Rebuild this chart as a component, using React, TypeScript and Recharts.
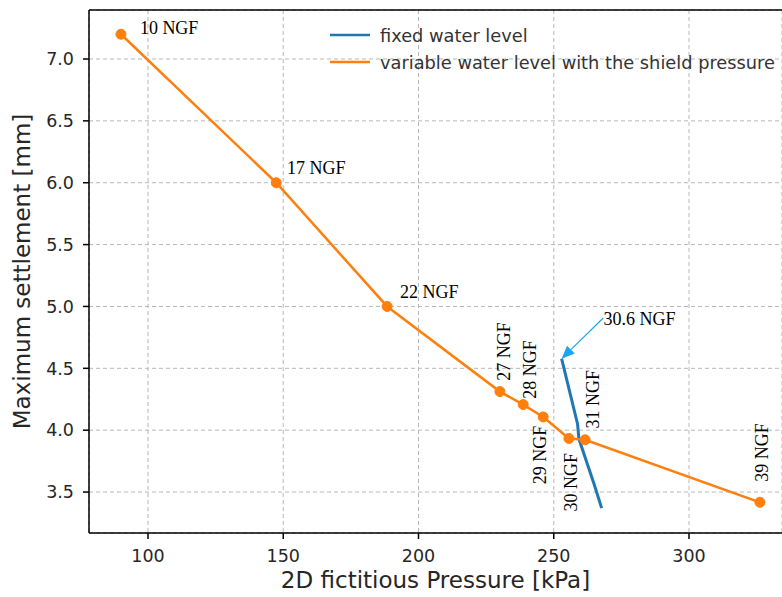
import {
  CartesianGrid,
  Legend,
  Line,
  LineChart,
  ReferenceDot,
  ReferenceLine,
  XAxis,
  YAxis,
} from "recharts";

// variable water level with the shield pressure (orange)
const variablePressure = [90.0, 147.4, 188.4, 230.1, 238.7, 246.1, 255.6, 261.6, 326.2];
const variableSettlement = [7.2, 6.0, 5.0, 4.312, 4.207, 4.107, 3.933, 3.922, 3.417];

// fixed water level (blue)
const fixedPressure = [252.9, 258.8, 259.3, 264.9, 267.7];
const fixedSettlement = [4.578, 4.05, 3.93, 3.565, 3.37];

const xTicks = [100, 150, 200, 250, 300];
const yTicks = [3.5, 4.0, 4.5, 5.0, 5.5, 6.0, 6.5, 7.0];
const xDomain: [number, number] = [78.19, 334.38];
const yDomain: [number, number] = [3.169, 7.396];

// NGF annotations (data coordinates of the text centre / start)
const labelText = ["10 NGF", "17 NGF", "22 NGF", "27 NGF", "28 NGF", "29 NGF", "30 NGF", "31 NGF", "39 NGF", "30.6 NGF"];
const labelX = [97.0, 151.4, 193.2, 231.6, 241.2, 244.9, 256.4, 264.5, 327.0, 268.4];
const labelY = [7.25, 6.12, 5.12, 4.637, 4.49, 3.8, 3.58, 4.25, 3.82, 4.9];
const labelVertical = [false, false, false, true, true, true, true, true, true, false];

const arrowFrom = { x: 268.3, y: 4.907 };
const arrowTo = { x: 252.9, y: 4.578 };

const variableData = variablePressure.map((x, i) => ({ x, y: variableSettlement[i] }));
const fixedData = fixedPressure.map((x, i) => ({ x, y: fixedSettlement[i] }));

const BLUE = "#1f77b4";
const ORANGE = "#ff7f0e";
const SANS = "DejaVu Sans";
const SERIF = "Liberation Serif";

function LegendBox() {
  const items = [
    { color: BLUE, text: "fixed water level" },
    { color: ORANGE, text: "variable water level with the shield pressure" },
  ];
  return (
    <svg width={460} height={60}>
      {items.map((it, i) => (
        <g key={it.text}>
          <line x1={2} x2={42} y1={13 + i * 27} y2={13 + i * 27} stroke={it.color} strokeWidth={2.5} />
          <text x={52} y={13 + i * 27} dominantBaseline="central" fontFamily={SANS} fontSize={17.8} fill="#333">
            {it.text}
          </text>
        </g>
      ))}
    </svg>
  );
}

function ArrowShape(props: any) {
  const { x1, y1, x2, y2 } = props;
  const ang = Math.atan2(y2 - y1, x2 - x1);
  const len = 13;
  const half = 5.5;
  const bx = x2 - len * Math.cos(ang);
  const by = y2 - len * Math.sin(ang);
  const px = -Math.sin(ang) * half;
  const py = Math.cos(ang) * half;
  return (
    <g>
      <line x1={x1} y1={y1} x2={bx} y2={by} stroke="#1aa7ec" strokeWidth={1.2} />
      <polygon points={`${x2},${y2} ${bx + px},${by + py} ${bx - px},${by - py}`} fill="#1aa7ec" />
    </g>
  );
}

export default function App() {
  return (
    <div style={{ position: "absolute", left: 0, top: 0 }}>
      <LineChart
        width={782}
        height={597}
        margin={{ top: 10, right: 0, left: 0, bottom: 0 }}
      >
        <CartesianGrid stroke="#b8b8b8" strokeDasharray="4 3" strokeWidth={1} />
        <XAxis
          type="number"
          dataKey="x"
          domain={xDomain}
          ticks={xTicks}
          interval={0}
          allowDataOverflow
          height={64}
          tickSize={6}
          tickMargin={11}
          stroke="#000"
          strokeWidth={1.5}
          tick={{ fill: "#262626", fontFamily: SANS, fontSize: 17.5 }}
          label={(p: any) => {
            const vb = p.viewBox;
            return (
              <text x={vb.x + vb.width / 2} y={vb.y + 47} textAnchor="middle" dominantBaseline="central" fontFamily={SANS} fontSize={23} fill="#262626">
                2D fictitious Pressure [kPa]
              </text>
            );
          }}
        />
        <YAxis
          type="number"
          dataKey="y"
          domain={yDomain}
          ticks={yTicks}
          interval={0}
          allowDataOverflow
          width={89}
          tickSize={6}
          tickMargin={9}
          stroke="#000"
          strokeWidth={1.5}
          tickFormatter={(v: number) => v.toFixed(1)}
          tick={{ fill: "#262626", fontFamily: SANS, fontSize: 17.5 }}
          label={(p: any) => {
            const vb = p.viewBox;
            const cx = vb.x + 22;
            const cy = vb.y + vb.height / 2;
            return (
              <text x={cx} y={cy} transform={`rotate(-90 ${cx} ${cy})`} textAnchor="middle" dominantBaseline="central" fontFamily={SANS} fontSize={23} fill="#262626">
                Maximum settlement [mm]
              </text>
            );
          }}
        />
        <ReferenceLine y={yDomain[1]} stroke="#000" strokeWidth={1.5} />
        <Legend
          layout="vertical"
          align="center"
          verticalAlign="middle"
          wrapperStyle={{ left: 328, top: 22, width: 460 }}
          content={() => <LegendBox />}
        />
        <Line
          data={fixedData}
          dataKey="y"
          stroke={BLUE}
          strokeWidth={3}
          dot={false}
          isAnimationActive={false}
        />
        <Line
          data={variableData}
          dataKey="y"
          stroke={ORANGE}
          strokeWidth={2.5}
          dot={{ r: 5, fill: ORANGE, stroke: ORANGE, strokeWidth: 1 }}
          isAnimationActive={false}
        />
        <ReferenceLine
          segment={[arrowFrom, arrowTo]}
          ifOverflow="visible"
          shape={(p: any) => <ArrowShape {...p} />}
        />
        {labelText.map((t, i) => (
          <ReferenceDot
            key={t}
            x={labelX[i]}
            y={labelY[i]}
            r={0}
            ifOverflow="visible"
            shape={(p: any) =>
              labelVertical[i] ? (
                <text
                  x={p.cx}
                  y={p.cy}
                  transform={`rotate(-90 ${p.cx} ${p.cy})`}
                  textAnchor="middle"
                  dominantBaseline="central"
                  fontFamily={SERIF}
                  fontSize={18}
                  fill="#000"
                >
                  {t}
                </text>
              ) : (
                <text
                  x={p.cx}
                  y={p.cy}
                  textAnchor="start"
                  dominantBaseline="central"
                  fontFamily={SERIF}
                  fontSize={18}
                  fill="#000"
                >
                  {t}
                </text>
              )
            }
          />
        ))}
      </LineChart>
    </div>
  );
}
